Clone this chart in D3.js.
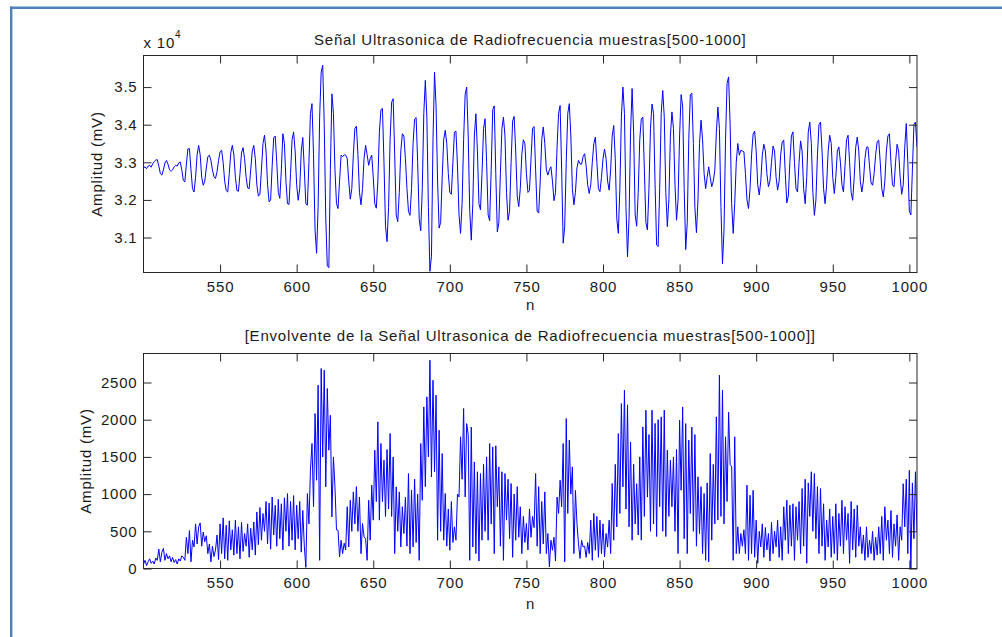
<!DOCTYPE html>
<html>
<head>
<meta charset="utf-8">
<script src="https://cdn.jsdelivr.net/npm/d3@7"></script>
<style>
  html, body { margin: 0; padding: 0; background: #ffffff; }
  svg { display: block; font-family: "Liberation Sans", Arial, sans-serif; }
</style>
</head>
<body>
<svg id="chart" width="1002" height="637"></svg>
<script>
// ---------------- data ----------------
const firstSample = 500;              // sample index of the first value
const xDomain = [500, 1005];
const xTicks = [550, 600, 650, 700, 750, 800, 850, 900, 950, 1000];

const topTitle = "Señal Ultrasonica de Radiofrecuencia muestras[500-1000]";
const bottomTitle = "[Envolvente de la Señal Ultrasonica de Radiofrecuencia muestras[500-1000]]";
const xLabel = "n";
const yLabel = "Amplitud (mV)";
const topExponent = "4";

const topYDomain = [30070, 35840];
const topYTicks = [31000, 32000, 33000, 34000, 35000];
const topYTickLabels = ["3.1", "3.2", "3.3", "3.4", "3.5"];

const bottomYDomain = [0, 2890];
const bottomYTicks = [0, 500, 1000, 1500, 2000, 2500];
const bottomYTickLabels = ["0", "500", "1000", "1500", "2000", "2500"];

// RF signal, samples 500..1005 (mV)
const signal = [
32850,32880,32830,32900,32920,32870,32960,33020,33060,33070,
32900,32700,32660,32800,32980,33050,32950,32800,32760,32800,
32880,32920,32900,32980,33010,32800,32520,32480,32950,33360,
33360,32800,32300,32210,32600,33200,33450,33200,32600,32390,
32500,32850,33150,33190,33050,32800,32620,32570,32750,33050,
33280,33320,33000,32500,32250,32210,32700,33250,33450,33200,
32600,32250,32230,32700,33250,33390,33100,32600,32320,32300,
32800,33300,33450,33100,32400,32100,32150,32800,33500,33720,
33300,32400,31950,32000,32900,33650,33700,33000,32200,32040,
32800,33760,33500,32500,31900,31880,32700,33600,33810,33300,
32400,31990,32300,33300,33660,32800,31900,31860,33000,34300,
34560,33200,31200,30580,31800,34200,35400,35580,34000,31500,
30250,30200,32800,34820,34300,32800,31900,31770,32500,33190,
33150,33200,33190,33100,32500,32020,32300,33200,33900,33960,
33200,32200,31870,32300,33100,33450,33200,32920,33100,33190,
32600,31900,31780,32500,33800,34400,34430,33000,31300,30890,
31800,33600,34600,34690,33200,31600,31420,32200,33300,33760,
33700,33100,32300,31700,31590,32300,33500,34150,34190,33000,
31500,31180,32300,34300,35180,34200,31800,30100,30500,33600,
35400,34500,32500,31250,31400,32600,33600,33850,33500,32700,
32200,32150,33000,33800,33830,32900,31600,31110,31900,33600,
34800,35000,33700,31700,30930,31900,33700,34290,33300,31900,
31740,32700,33900,34160,33000,31600,31450,32800,34400,34500,
32700,31150,31400,32700,33900,34200,33700,32200,31460,31700,
33000,34100,34220,33300,32100,31820,32300,33200,33600,33500,
32700,32200,32250,33100,33900,33950,32800,31700,31650,32500,
33600,33940,33500,32800,32660,32800,32880,32500,31980,32200,
33400,34300,34510,32800,30850,31300,33000,34300,34560,33700,
32300,31870,32200,32850,33050,32960,32950,33150,33230,32900,
32400,32170,32400,33000,33500,33670,33000,32300,32220,32600,
33100,33350,33100,32500,32260,32800,33700,33980,33100,31500,
31110,32300,34200,35000,34300,31800,30490,31500,33800,34960,
33800,31600,31300,32200,33600,34150,34200,32800,31400,31200,
32300,33900,34550,34300,32400,30800,30760,32300,34300,34910,
34200,32200,31290,32000,33700,34340,33900,32400,31460,32000,
33700,34800,34500,32300,30680,31400,33600,34800,34840,33500,
31800,31130,32000,33500,34120,33600,32700,32300,32600,32880,
32600,32350,32500,32790,33800,34470,33900,31800,30300,31200,
33600,35100,35270,34000,31900,31110,31900,33000,33500,33190,
33320,33300,33280,32700,32000,31770,32300,33200,33750,33830,
33300,32400,32130,32500,33200,33480,33300,32700,32350,32500,
33000,33430,33300,32600,32260,32500,33200,33550,33590,32700,
31920,32100,33000,33700,33810,33000,32300,32210,33000,33570,
33300,32300,31900,32600,33800,34070,33500,32200,31590,32000,
33200,34000,34070,33300,32300,31900,32400,33300,33720,33500,
32600,32170,32600,33300,33410,33000,32400,32210,32900,33600,
33720,33000,32200,31990,32600,33400,33670,33300,32500,32210,
32500,33100,33400,33410,32900,32450,32390,32700,33200,33550,
33590,33000,32300,32080,32500,33300,33700,33760,33000,32400,
32350,33000,33480,33300,32600,32150,32400,33400,34030,33000,
31700,31600,32800,34000,34070,33400
];

// envelope, samples 500..1005 (mV)
const envelope = [
60,110,40,90,130,70,100,60,140,110,
260,90,220,270,110,200,130,170,90,150,
80,120,60,130,100,170,150,110,420,200,
510,90,380,290,600,330,560,613,300,490,
360,440,200,330,90,300,160,250,450,120,
600,200,680,130,580,110,640,250,520,180,
650,200,560,130,620,230,470,300,600,150,
540,250,625,180,760,320,820,380,740,500,
900,330,880,260,960,450,850,300,930,400,
870,250,950,500,1007,300,900,380,980,250,
850,400,900,220,780,300,15,1007,600,1321,
1680,830,2083,1186,2464,110,2688,1500,2665,1097,
2419,1590,2060,694,1500,1097,520,515,156,380,
200,340,250,830,290,917,500,1030,600,1100,
500,960,200,605,425,400,110,917,380,1120,
650,1590,900,1971,650,1680,900,1455,700,1600,
800,1814,700,1500,200,1097,500,1030,290,830,
470,960,300,1276,200,1052,290,1200,350,1000,
110,1680,917,2172,1100,2307,1500,2800,1232,2530,
1300,2330,380,1859,500,1545,380,1008,300,800,
245,900,350,560,380,1000,962,1770,1200,2150,
962,1948,1800,110,1900,290,1433,200,1300,100,
1276,380,1400,500,1500,380,1680,600,1635,200,
1650,830,1366,300,1300,110,1276,650,1200,400,
1142,150,1000,380,1100,420,830,200,700,350,
605,250,800,420,700,550,1276,300,1100,200,
900,330,1030,200,470,20,380,245,420,100,
960,740,1186,830,1680,90,2016,740,1725,1000,
1366,200,1050,605,330,135,380,290,300,150,
350,200,650,110,740,245,700,150,650,200,
600,155,470,290,650,200,1142,380,1400,560,
1814,740,2217,1097,2396,800,2200,560,1700,380,
1400,600,1140,450,1500,380,1903,700,2128,960,
1800,500,2128,600,1950,430,2000,830,2038,500,
2128,430,1590,700,1455,830,1500,500,1600,200,
1993,1052,2172,400,1948,200,1725,740,1900,500,
1800,300,1232,470,1100,200,1008,110,1150,90,
1545,380,1400,600,2038,650,2598,700,2396,600,
1770,900,2100,1400,1366,110,1770,200,560,200,
470,300,520,200,1120,110,985,200,1050,150,
650,70,500,290,600,150,550,250,470,100,
620,200,500,290,650,150,560,110,830,380,
917,200,850,300,870,110,830,380,900,200,
1075,300,1200,70,1150,700,1300,500,1276,400,
1100,200,1075,300,870,110,650,290,800,150,
700,200,870,110,740,300,917,200,830,380,
740,70,900,250,800,150,850,300,560,200,
450,110,560,150,380,200,500,110,420,180,
560,200,700,110,830,380,650,200,780,150,
600,300,720,110,560,380,1140,560,1200,200,
1320,0,1150,400,1300,500
];

// ---------------- layout ----------------
const svg = d3.select("#chart");
const FONT = 15, LS = "0.8px", TXT = "#1a1a1a", AXC = "#262626";
const left = 143.5, right = 917;
const panels = [
  { top: 55.5, bottom: 272.5, data: signal, yDomain: topYDomain, yTicks: topYTicks,
    yLabels: topYTickLabels, title: topTitle, titleY: 44.5, nY: 310, yLabelX: 102 },
  { top: 353.5, bottom: 568.5, data: envelope, yDomain: bottomYDomain, yTicks: bottomYTicks,
    yLabels: bottomYTickLabels, title: bottomTitle, titleY: 340.5, nY: 609, yLabelX: 91 }
];

// page frame (blue border lines)
svg.append("rect").attr("x", 0).attr("y", 0).attr("width", 1002).attr("height", 637).attr("fill", "#fff");
svg.append("line").attr("x1", 11.2).attr("x2", 11.2).attr("y1", 6.5).attr("y2", 637)
  .attr("stroke", "#4f81bd").attr("stroke-width", 2.4);
svg.append("line").attr("x1", 10).attr("x2", 1002).attr("y1", 7.8).attr("y2", 7.8)
  .attr("stroke", "#4f81bd").attr("stroke-width", 2.4);

const x = d3.scaleLinear().domain(xDomain).range([left, right]);

panels.forEach((p, pi) => {
  const y = d3.scaleLinear().domain(p.yDomain).range([p.bottom, p.top]);
  const g = svg.append("g");
  const clipId = "clip" + pi;
  svg.append("clipPath").attr("id", clipId).append("rect")
    .attr("x", left).attr("y", p.top).attr("width", right - left).attr("height", p.bottom - p.top);

  // line
  const line = d3.line().x((d, i) => x(firstSample + i)).y(d => y(d));
  g.append("path").datum(p.data)
    .attr("clip-path", `url(#${clipId})`)
    .attr("d", line).attr("fill", "none").attr("stroke", "#0000ff").attr("stroke-width", 1);

  // axes (ticks inward on all four sides)
  const styleAxis = sel => {
    sel.select(".domain").remove();
    sel.selectAll(".tick line").attr("stroke", AXC);
    sel.selectAll(".tick text").attr("fill", TXT).attr("font-size", FONT)
      .attr("font-family", '"Liberation Sans", Arial, sans-serif').style("letter-spacing", LS);
  };
  g.append("g").attr("transform", `translate(0,${p.bottom})`)
    .call(d3.axisBottom(x).tickValues(xTicks).tickFormat(d3.format("d")).tickSizeInner(-8).tickSizeOuter(0).tickPadding(9))
    .call(styleAxis);
  g.append("g").attr("transform", `translate(0,${p.top})`)
    .call(d3.axisTop(x).tickValues(xTicks).tickFormat("").tickSizeInner(-8).tickSizeOuter(0))
    .call(styleAxis);
  g.append("g").attr("transform", `translate(${left},0)`)
    .call(d3.axisLeft(y).tickValues(p.yTicks).tickFormat((d, i) => p.yLabels[i]).tickSizeInner(-8).tickSizeOuter(0).tickPadding(6))
    .call(styleAxis);
  g.append("g").attr("transform", `translate(${right},0)`)
    .call(d3.axisRight(y).tickValues(p.yTicks).tickFormat("").tickSizeInner(-8).tickSizeOuter(0))
    .call(styleAxis);

  // box
  g.append("rect").attr("x", left).attr("y", p.top).attr("width", right - left).attr("height", p.bottom - p.top)
    .attr("fill", "none").attr("stroke", AXC).attr("stroke-width", 1);

  // title
  g.append("text").attr("x", (left + right) / 2).attr("y", p.titleY).attr("text-anchor", "middle")
    .attr("font-size", FONT).style("letter-spacing", LS).attr("fill", TXT).text(p.title);
  // x label
  g.append("text").attr("x", (left + right) / 2).attr("y", p.nY).attr("text-anchor", "middle")
    .attr("font-size", FONT).attr("fill", TXT).text(xLabel);
  // y label
  g.append("text").attr("transform", `translate(${p.yLabelX},${(p.top + p.bottom) / 2}) rotate(-90)`)
    .attr("text-anchor", "middle").attr("font-size", FONT).style("letter-spacing", LS)
    .attr("fill", TXT).text(yLabel);
});

// exponent label of the top axis
const expo = svg.append("text").attr("x", 143.5).attr("y", 48).attr("font-size", FONT)
  .style("letter-spacing", LS).attr("fill", TXT);
expo.append("tspan").text("x 10");
expo.append("tspan").attr("dy", -10).attr("font-size", 10).text(topExponent);
</script>
</body>
</html>
